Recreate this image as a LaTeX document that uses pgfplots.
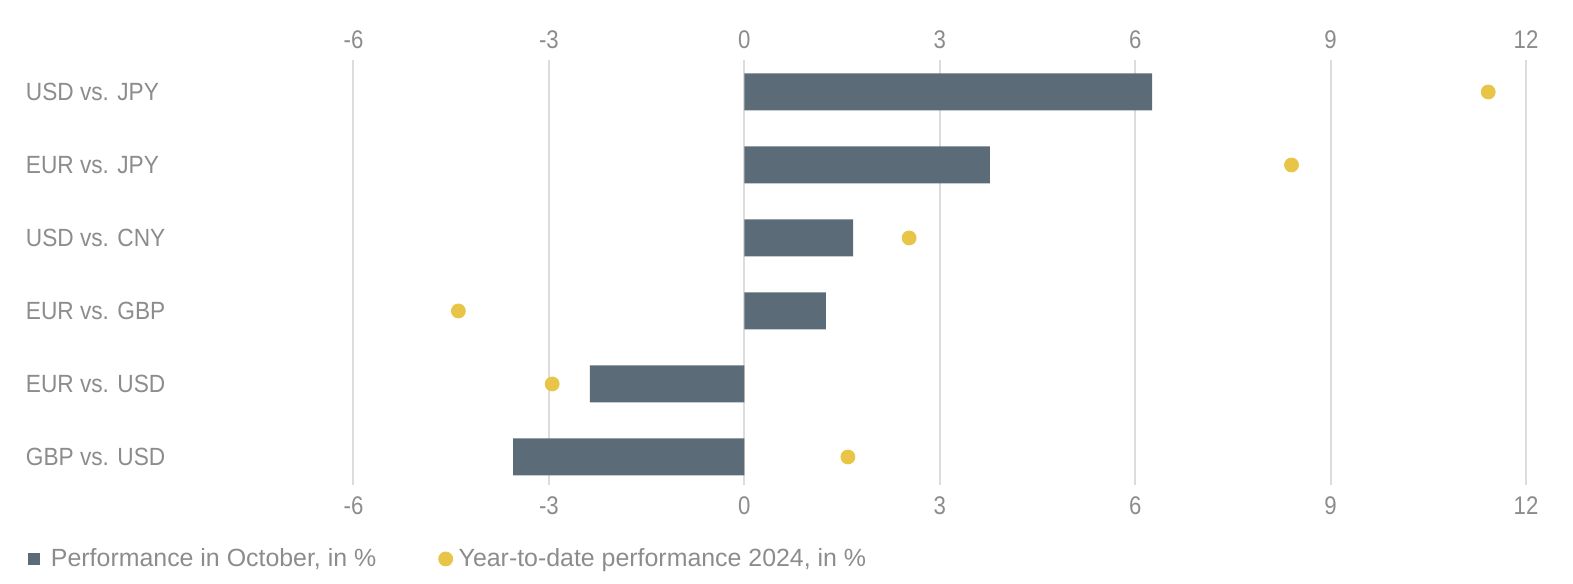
\documentclass[border=0pt]{standalone}
\usepackage{fontspec}
\setmainfont{Liberation Sans}[FakeStretch=0.91]
\newfontfamily\tickfont{Liberation Sans}[FakeStretch=0.87]
\newfontfamily\legendfont{Liberation Sans}
\usepackage{pgfplots}
\pgfplotsset{compat=1.18}
\definecolor{barcol}{HTML}{5B6B77}
\definecolor{dotcol}{HTML}{E8C547}
\definecolor{txtcol}{HTML}{8C8C8C}
\definecolor{gridcol}{HTML}{DCDCDC}
\begin{document}
\begin{tikzpicture}
\useasboundingbox (-176.75bp,-49.5bp) rectangle (609.75bp,242.5bp);
\pgfplotsset{
  base/.style={
    scale only axis, width=586.25bp, height=212.5bp,
    xmin=-6, xmax=12, ymin=-0.438, ymax=5.384, y dir=reverse,
    axis line style={draw=none},
    xtick={-6,-3,0,3,6,9,12},
    xticklabels={-6,-3,0,3,6,9,12},
    major tick length=0pt,
    xticklabel style={font=\tickfont\fontsize{12.8}{15}\selectfont, text=txtcol},
  }
}
\begin{axis}[base, at={(0,0)}, anchor=south west,
  xmajorgrids, major grid style={draw=gridcol, line width=1bp},
  ytick={0,1,2,3,4,5},
  yticklabels={USD vs. JPY,EUR vs. JPY,USD vs. CNY,EUR vs. GBP,EUR vs. USD,GBP vs. USD},
  yticklabel style={font=\fontsize{12.5}{15}\selectfont, text=txtcol,
    anchor=west, inner sep=0pt, xshift=-164bp},
  xticklabel style={yshift=-2.5bp},
  legend columns=2,
  legend style={at={(rel axis cs:-0.2776,-0.174)}, anchor=west, draw=none, fill=none,
    font=\legendfont\fontsize{12.5}{15}\selectfont, text=txtcol, inner sep=0pt,
    /tikz/every even column/.append style={column sep=29bp}},
  legend cell align=left,
]
\addplot[xbar, bar width=18.5bp, bar shift=0pt, fill=barcol, draw=none,
  legend image code/.code={\path[draw=none, fill=none] (0bp,0bp) rectangle (9.3bp,0.1bp);
    \fill[barcol] (0bp,-3bp) rectangle (6bp,3bp);}]
  coordinates {(6.26,0) (3.77,1) (1.67,2) (1.25,3) (-2.37,4) (-3.55,5)};
\addlegendentry{Performance in October, in \%}
\addplot[dotcol, only marks, mark=*, mark size=3.5bp,
  legend image code/.code={\path[draw=none, fill=none] (0bp,0bp) rectangle (8bp,0.1bp);
    \fill[dotcol] (3.5bp,0bp) circle (3.5bp);}]
  coordinates {(11.42,0) (8.40,1) (2.53,2) (-4.39,3) (-2.95,4) (1.59,5)};
\addlegendentry{Year-to-date performance 2024, in \%}
\end{axis}
\begin{axis}[base, at={(0,0)}, anchor=south west, xticklabel pos=top, ytick=\empty,
  xticklabel style={yshift=2bp}]
\end{axis}
\end{tikzpicture}
\end{document}
